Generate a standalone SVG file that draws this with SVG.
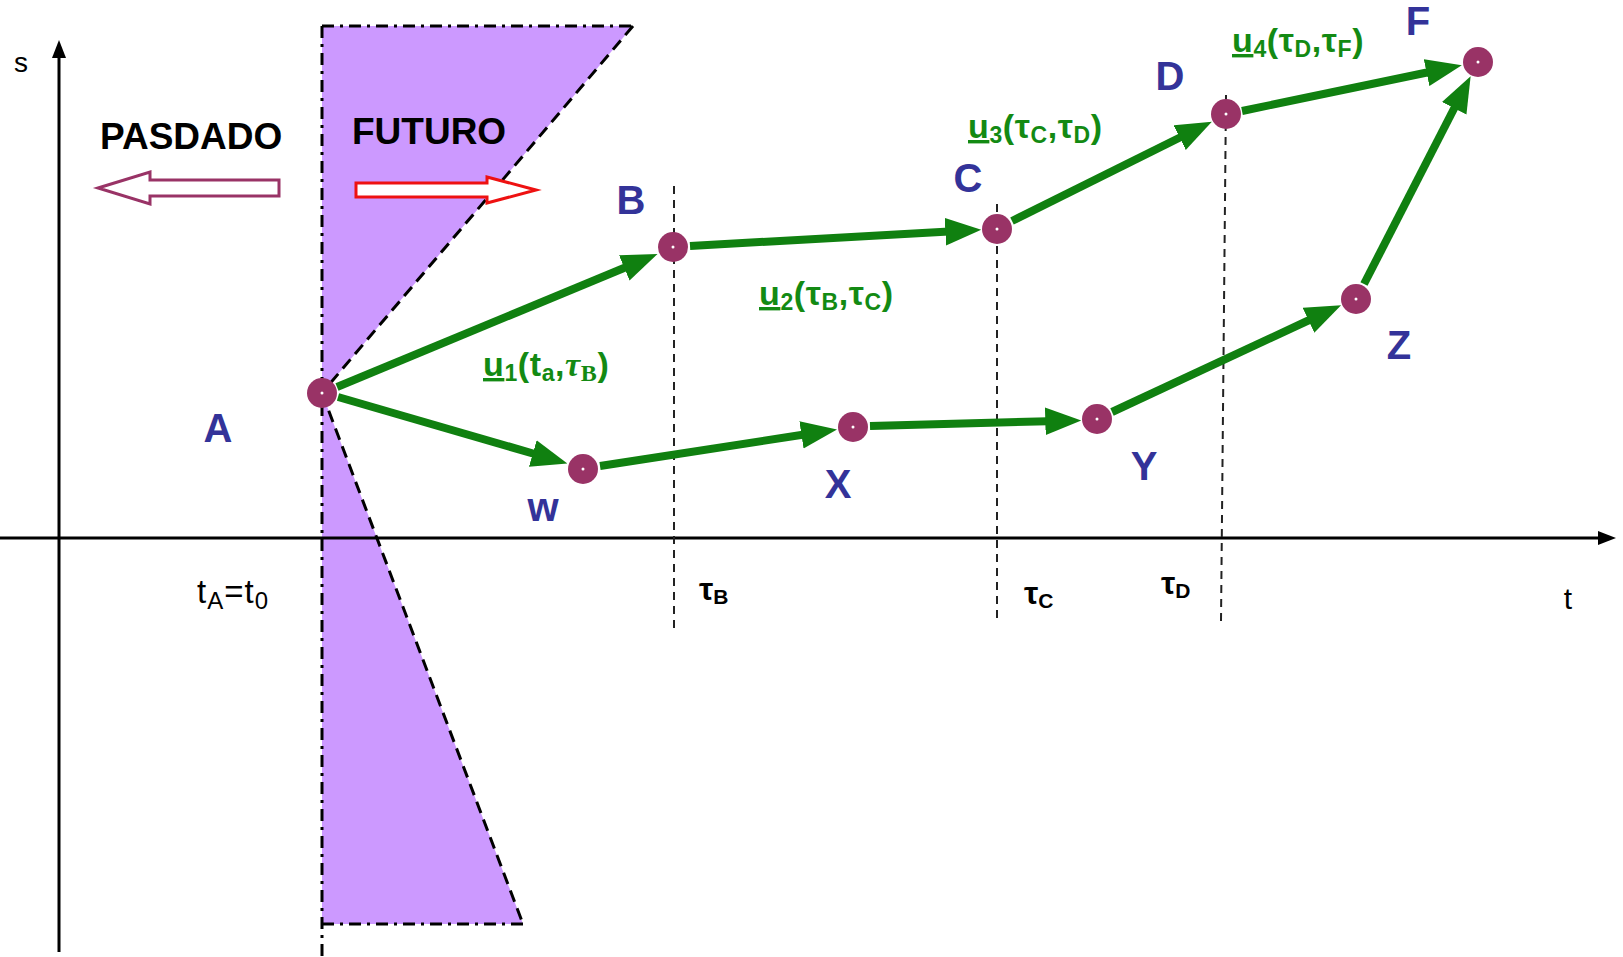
<svg xmlns="http://www.w3.org/2000/svg" width="1623" height="957" viewBox="0 0 1623 957">
<defs>
<style>
.lbl{font-family:"Liberation Sans",Arial,sans-serif;font-weight:bold;font-size:40px;fill:#333399;text-anchor:middle}
.blk{font-family:"Liberation Sans",Arial,sans-serif;fill:#000}
.grn{font-family:"Liberation Sans",Arial,sans-serif;font-weight:bold;font-size:34px;fill:#138a13;letter-spacing:0.6px}
.flow{stroke:#108010;stroke-width:8;fill:none;marker-end:url(#gh)}
.vd{stroke:#222;stroke-width:2;stroke-dasharray:8,6;fill:none}
.dd{stroke:#000;stroke-width:3;stroke-dasharray:12,6,3,6;fill:none}
.dsh{stroke:#000;stroke-width:3;stroke-dasharray:12,7;fill:none}
.node{fill:#993366}
.dot{fill:#fff}
</style>
<marker id="gh" markerUnits="userSpaceOnUse" markerWidth="36" markerHeight="28" viewBox="0 0 34 26" refX="12" refY="13" orient="auto">
<path d="M0,0 L34,13 L0,26 z" fill="#108010"/>
</marker>
</defs>
<rect width="1623" height="957" fill="#fff"/>

<g id="cones">
<polygon points="322,26 633,26 322,393" fill="#cc99ff"/>
<polygon points="322,393 322,924 523,924" fill="#cc99ff"/>
<line class="dd" x1="322" y1="26" x2="633" y2="26"/>
<line class="dsh" x1="633" y1="26" x2="322" y2="393"/>
<line class="dd" x1="322" y1="26" x2="322" y2="957"/>
<line class="dsh" x1="322" y1="393" x2="523" y2="924"/>
<line class="dd" x1="322" y1="924" x2="523" y2="924"/>
</g>

<g id="axes">
<line x1="59" y1="55" x2="59" y2="952" stroke="#000" stroke-width="3"/>
<polygon points="59,40 52,58 66,58" fill="#000"/>
<line x1="0" y1="538" x2="1600" y2="538" stroke="#000" stroke-width="3"/>
<polygon points="1616,538 1598,531 1598,545" fill="#000"/>
<text class="blk" x="21" y="72" font-size="28" text-anchor="middle">s</text>
<text class="blk" x="1568" y="609" font-size="30" text-anchor="middle">t</text>
<text class="blk" x="197" y="603" font-size="33" letter-spacing="1">t<tspan font-size="24" dy="6">A</tspan><tspan dy="-6">=t</tspan><tspan font-size="24" dy="6">0</tspan></text>
<text class="blk" x="699" y="600" font-size="32" font-weight="bold">τ<tspan font-size="21" dy="4">B</tspan></text>
<text class="blk" x="1024" y="604" font-size="32" font-weight="bold">τ<tspan font-size="21" dy="4">C</tspan></text>
<text class="blk" x="1161" y="594" font-size="32" font-weight="bold">τ<tspan font-size="21" dy="4">D</tspan></text>
</g>

<g id="time-marks">
<line class="vd" x1="674" y1="186" x2="674" y2="628"/>
<line class="vd" x1="997" y1="204" x2="997" y2="623"/>
<line class="vd" x1="1226" y1="95" x2="1221" y2="621"/>
</g>

<g id="pasado">
<text class="blk" x="100" y="149" font-size="37" font-weight="bold">PASDADO</text>
<polygon points="98,188 150,172 150,180 279,180 279,196 150,196 150,204" fill="#fff" stroke="#993366" stroke-width="3"/>
</g>
<g id="futuro">
<text class="blk" x="352" y="144" font-size="37" font-weight="bold">FUTURO</text>
<polygon points="536,190 487,177 487,183 356,183 356,197 487,197 487,203" fill="#fff" stroke="#ee1111" stroke-width="3"/>
</g>

<g id="connectors">
<line class="flow" x1="337" y1="387" x2="636" y2="263"/>
<line class="flow" x1="690" y1="246" x2="958" y2="231"/>
<line class="flow" x1="1012" y1="221" x2="1191" y2="132"/>
<line class="flow" x1="1242" y1="111" x2="1439" y2="70"/>
<line class="flow" x1="338" y1="397" x2="545" y2="457"/>
<line class="flow" x1="600" y1="466" x2="814" y2="433"/>
<line class="flow" x1="870" y1="426" x2="1058" y2="421"/>
<line class="flow" x1="1112" y1="412" x2="1320" y2="315"/>
<line class="flow" x1="1364" y1="284" x2="1460" y2="97"/>
<text class="grn" x="483" y="376"><tspan text-decoration="underline">u</tspan><tspan font-size="23" dy="5">1</tspan><tspan dy="-5">(t</tspan><tspan font-size="23" dy="5">a</tspan><tspan dy="-5">,</tspan><tspan font-family="Liberation Serif,serif" font-style="italic">τ</tspan><tspan font-family="Liberation Serif,serif" font-size="24" dy="5">B</tspan><tspan dy="-5">)</tspan></text>
<text class="grn" x="759" y="305"><tspan text-decoration="underline">u</tspan><tspan font-size="23" dy="5">2</tspan><tspan dy="-5">(τ</tspan><tspan font-size="23" dy="5">B</tspan><tspan dy="-5">,τ</tspan><tspan font-size="23" dy="5">C</tspan><tspan dy="-5">)</tspan></text>
<text class="grn" x="968" y="138"><tspan text-decoration="underline">u</tspan><tspan font-size="23" dy="5">3</tspan><tspan dy="-5">(τ</tspan><tspan font-size="23" dy="5">C</tspan><tspan dy="-5">,τ</tspan><tspan font-size="23" dy="5">D</tspan><tspan dy="-5">)</tspan></text>
<text class="grn" x="1232" y="52"><tspan text-decoration="underline">u</tspan><tspan font-size="23" dy="5">4</tspan><tspan dy="-5">(τ</tspan><tspan font-size="23" dy="5">D</tspan><tspan dy="-5">,τ</tspan><tspan font-size="23" dy="5">F</tspan><tspan dy="-5">)</tspan></text>
</g>

<g id="A"><circle class="node" cx="322" cy="393" r="15"/><circle class="dot" cx="322" cy="393" r="1.5"/><text class="lbl" x="218" y="442">A</text></g>
<g id="B"><circle class="node" cx="673" cy="247" r="15"/><circle class="dot" cx="673" cy="247" r="1.5"/><text class="lbl" x="631" y="214">B</text></g>
<g id="C"><circle class="node" cx="997" cy="229" r="15"/><circle class="dot" cx="997" cy="229" r="1.5"/><text class="lbl" x="968" y="192">C</text></g>
<g id="D"><circle class="node" cx="1226" cy="114" r="15"/><circle class="dot" cx="1226" cy="114" r="1.5"/><text class="lbl" x="1170" y="90">D</text></g>
<g id="F"><circle class="node" cx="1478" cy="62" r="15"/><circle class="dot" cx="1478" cy="62" r="1.5"/><text class="lbl" x="1418" y="35">F</text></g>
<g id="W"><circle class="node" cx="583" cy="469" r="15"/><circle class="dot" cx="583" cy="469" r="1.5"/><text class="lbl" x="543" y="521">w</text></g>
<g id="X"><circle class="node" cx="853" cy="427" r="15"/><circle class="dot" cx="853" cy="427" r="1.5"/><text class="lbl" x="838" y="498">X</text></g>
<g id="Y"><circle class="node" cx="1097" cy="419" r="15"/><circle class="dot" cx="1097" cy="419" r="1.5"/><text class="lbl" x="1144" y="480">Y</text></g>
<g id="Z"><circle class="node" cx="1356" cy="299" r="15"/><circle class="dot" cx="1356" cy="299" r="1.5"/><text class="lbl" x="1399" y="359">Z</text></g>
</svg>
